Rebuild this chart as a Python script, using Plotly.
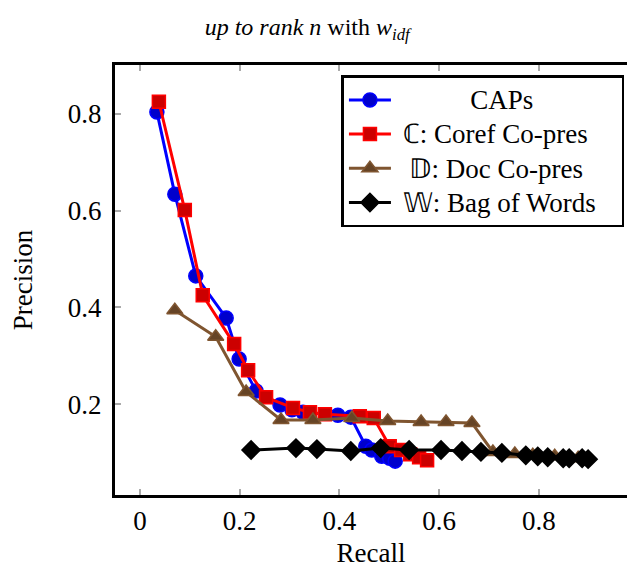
import plotly.graph_objects as go

# CAPs
caps_x = [0.034, 0.070, 0.112, 0.173, 0.199, 0.233, 0.281, 0.305, 0.327, 0.397, 0.423, 0.453, 0.465, 0.485, 0.501, 0.512]
caps_y = [0.804, 0.634, 0.465, 0.378, 0.293, 0.227, 0.198, 0.188, 0.183, 0.177, 0.173, 0.113, 0.105, 0.092, 0.088, 0.082]

# C: Coref Co-pres
coref_x = [0.038, 0.090, 0.126, 0.189, 0.217, 0.253, 0.307, 0.341, 0.371, 0.441, 0.469, 0.501, 0.524, 0.542, 0.560, 0.576]
coref_y = [0.825, 0.601, 0.425, 0.324, 0.270, 0.214, 0.192, 0.183, 0.179, 0.175, 0.171, 0.113, 0.105, 0.096, 0.090, 0.084]

# D: Doc Co-pres
doc_x = [0.070, 0.152, 0.213, 0.283, 0.347, 0.425, 0.497, 0.564, 0.614, 0.666, 0.708, 0.752, 0.788, 0.832, 0.879]
doc_y = [0.394, 0.339, 0.225, 0.167, 0.167, 0.171, 0.165, 0.163, 0.163, 0.161, 0.101, 0.097, 0.094, 0.092, 0.088]

# W: Bag of Words
bow_x = [0.223, 0.313, 0.355, 0.423, 0.483, 0.540, 0.604, 0.646, 0.684, 0.726, 0.774, 0.798, 0.818, 0.849, 0.861, 0.887, 0.899]
bow_y = [0.105, 0.109, 0.107, 0.103, 0.109, 0.105, 0.105, 0.103, 0.101, 0.099, 0.094, 0.092, 0.090, 0.088, 0.088, 0.088, 0.086]

x_ticks = [0, 0.2, 0.4, 0.6, 0.8]
x_tick_labels = ["0", "0.2", "0.4", "0.6", "0.8"]
y_ticks = [0.2, 0.4, 0.6, 0.8]
y_tick_labels = ["0.2", "0.4", "0.6", "0.8"]

series_names = ["CAPs", "ℂ: Coref Co-pres", "𝔻: Doc Co-pres", "𝕎: Bag of Words"]
# (leading, trailing) no-break-space pads: legend cells are centred in the original
name_pads = [(11, 0), (1, 4), (2, 0), (1, 3)]

FONT = "Liberation Serif"
NB = "\u00a0"

fig = go.Figure()

def add(x, y, name, pad, line_col, fill_col, symbol, size):
    label = '<span style="font-size:27px">' + NB * pad[0] + name + NB * pad[1] + "</span>"
    fig.add_trace(go.Scatter(
        x=x, y=y, mode="lines+markers", name=label,
        line=dict(color=line_col, width=3),
        marker=dict(symbol=symbol, size=size, color=fill_col,
                    line=dict(color=line_col, width=1.5)),
    ))

add(caps_x, caps_y, series_names[0], name_pads[0], "#0000FF", "#0000CC", "circle", 14)
add(coref_x, coref_y, series_names[1], name_pads[1], "#FF0000", "#CC0000", "square", 13)
add(doc_x, doc_y, series_names[2], name_pads[2], "#7F5530", "#664426", "triangle-up", 14)
add(bow_x, bow_y, series_names[3], name_pads[3], "#000000", "#000000", "diamond", 14)

tick_style = dict(ticks="inside", ticklen=6, tickcolor="#AAAAAA", tickwidth=1.5,
                  showgrid=False, zeroline=False)
label_font = dict(family=FONT, size=27, color="black")

x_range = [-0.05, 0.977]
y_range = [0.012, 0.901]

fig.update_layout(
    width=627, height=570,
    margin=dict(l=115, r=0, t=65, b=75),
    paper_bgcolor="white", plot_bgcolor="white",
    title=dict(text="<i>up to rank n</i> with <i>w</i><sub><i>idf</i></sub>",
               x=0.49, xanchor="center", y=1 - 27 / 570, yanchor="middle",
               font=dict(family=FONT, size=24, color="black")),
    xaxis=dict(range=x_range, tickvals=x_ticks, ticktext=x_tick_labels,
               showline=True, linecolor="black", linewidth=3, mirror="ticks",
               tickfont=label_font,
               title=dict(text="Recall", font=label_font, standoff=8),
               **tick_style),
    yaxis=dict(range=y_range, tickvals=y_ticks, ticktext=y_tick_labels,
               showline=True, linecolor="black", linewidth=3, mirror=False,
               tickfont=label_font, ticklabelstandoff=5,
               title=dict(text="Precision", font=label_font, standoff=28),
               **tick_style),
    yaxis2=dict(range=y_range, tickvals=y_ticks, overlaying="y", side="right",
                showline=False, showticklabels=False, **tick_style),
    legend=dict(x=0.995, y=0.976, xanchor="right", yanchor="top",
                bordercolor="black", borderwidth=2.5, bgcolor="white",
                font=dict(family=FONT, size=24, color="black"),
                itemwidth=42, tracegroupgap=0),
    showlegend=True,
)

fig.write_html("out.html", config={"displayModeBar": False},
               post_script="document.body.style.margin='0';document.body.style.overflow='hidden';")
